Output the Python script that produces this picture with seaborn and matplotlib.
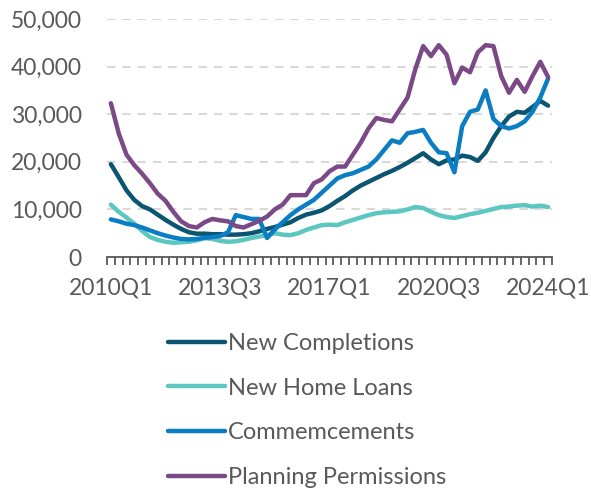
import pandas as pd
import numpy as np
import matplotlib
matplotlib.use("Agg")
import matplotlib.pyplot as plt
import seaborn as sns
from matplotlib.ticker import FuncFormatter

# quarterly series, 2010Q1 .. 2024Q1
quarters = [str(p) for p in pd.period_range("2010Q1", "2024Q1", freq="Q")]

new_completions = [19500, 16800, 14000, 12000, 10700, 10000, 8900, 7800, 6800, 5900,
                   5200, 4900, 4900, 4800, 4800, 4700, 4700, 4800, 5000, 5400,
                   5900, 6300, 6800, 7300, 8200, 8900, 9300, 9800, 10700, 11800,
                   12800, 14000, 15000, 15800, 16600, 17400, 18100, 18900, 19800, 20800,
                   21800, 20500, 19500, 20300, 20500, 21300, 21000, 20200, 22000, 25000,
                   27500, 29500, 30500, 30300, 31500, 32800, 31800]

new_home_loans = [11000, 9500, 8300, 7000, 5500, 4200, 3600, 3200, 3000, 3100,
                  3200, 3500, 4000, 3800, 3400, 3200, 3300, 3600, 4000, 4300,
                  4600, 5000, 4700, 4600, 5000, 5700, 6200, 6700, 6800, 6700,
                  7300, 7800, 8300, 8800, 9200, 9400, 9500, 9600, 10000, 10500,
                  10300, 9500, 8800, 8400, 8200, 8600, 9000, 9300, 9700, 10100,
                  10500, 10600, 10800, 10900, 10600, 10800, 10500]

commencements = [7900, 7500, 7000, 6700, 6200, 5600, 5000, 4500, 4100, 3800,
                 3700, 3800, 4000, 4200, 4400, 5200, 8800, 8400, 8000, 8000,
                 4000, 5800, 7300, 8800, 10000, 11000, 12000, 13500, 15000, 16500,
                 17200, 17600, 18300, 19000, 20500, 22500, 24500, 24000, 26000, 26300,
                 26700, 24000, 22000, 21800, 17800, 27500, 30500, 31000, 35000, 29000,
                 27500, 27000, 27500, 28500, 30500, 33500, 37500]

planning_permissions = [32300, 26000, 21500, 19300, 17500, 15500, 13300, 11800, 9500, 7500,
                        6500, 6200, 7300, 8000, 7700, 7500, 6500, 6200, 6900, 7600,
                        8500, 10000, 11000, 13000, 13000, 13000, 15500, 16300, 18000, 19000,
                        19000, 21500, 24000, 27000, 29200, 28800, 28500, 31000, 33500, 39500,
                        44300, 42200, 44500, 42500, 36500, 39800, 38800, 43000, 44500, 44300,
                        38000, 34500, 37200, 34700, 38000, 41000, 37800]

series_names = ["New Completions", "New Home Loans", "Commemcements", "Planning Permissions"]
colors = ["#0B5572", "#5CC6C0", "#0A7DC3", "#7B4A86"]
label_ticks = ["2010Q1", "2013Q3", "2017Q1", "2020Q3", "2024Q1"]

df = pd.DataFrame({
    "quarter": quarters * 4,
    "idx": list(range(len(quarters))) * 4,
    "series": np.repeat(series_names, len(quarters)),
    "value": new_completions + new_home_loans + commencements + planning_permissions,
})

sns.set_style("ticks")
plt.rcParams["font.family"] = ["Lato", "DejaVu Sans"]
plt.rcParams["lines.scale_dashes"] = False
grey = "#595959"

fig = plt.figure(figsize=(5.91, 4.92), dpi=100)
ax = fig.add_axes([0.181, 0.4776, 0.753, 0.4838])

sns.lineplot(data=df, x="idx", y="value", hue="series", hue_order=series_names,
             palette=colors, linewidth=3.2, ax=ax, legend=False)
for ln in ax.lines:
    ln.set_solid_capstyle("round")
    ln.set_solid_joinstyle("round")

ax.set_xlim(-0.5, len(quarters) - 0.5)
ax.set_ylim(0, 50000)
ax.set_yticks(range(0, 50001, 10000))
ax.yaxis.set_major_formatter(FuncFormatter(lambda v, p: f"{int(v):,}"))
ax.yaxis.grid(True, color="#D9D9D9", linewidth=1.5, linestyle=(0, (6, 5)))
ax.set_axisbelow(True)

# tick marks between quarters (major), year labels as minor ticks without marks
ax.set_xticks(np.arange(-0.5, len(quarters), 1.0))
ax.set_xticklabels([])
pos = [quarters.index(q) for q in label_ticks]
ax.set_xticks(pos, labels=label_ticks, minor=True)
ax.tick_params(axis="x", which="major", length=6, width=1.3, color=grey, direction="out", bottom=True)
ax.tick_params(axis="x", which="minor", length=0, pad=14.5, labelsize=16.5, labelcolor=grey)
ax.tick_params(axis="y", which="both", length=0, pad=18, labelsize=16.5, labelcolor=grey)

for s in ["top", "right", "left"]:
    ax.spines[s].set_visible(False)
ax.spines["bottom"].set_color(grey)
ax.spines["bottom"].set_linewidth(1.3)
ax.set_xlabel("")
ax.set_ylabel("")

handles = [plt.Line2D([], [], color=c, linewidth=3.2, solid_capstyle="round") for c in colors]
leg = fig.legend(handles, series_names, loc="upper left", bbox_to_anchor=(0.284, 0.323),
                 frameon=False, fontsize=17, handlelength=2.4, handletextpad=0.13,
                 labelspacing=1.0, borderpad=0, borderaxespad=0)
for t in leg.get_texts():
    t.set_color(grey)

fig.savefig("out.png", dpi=100)
